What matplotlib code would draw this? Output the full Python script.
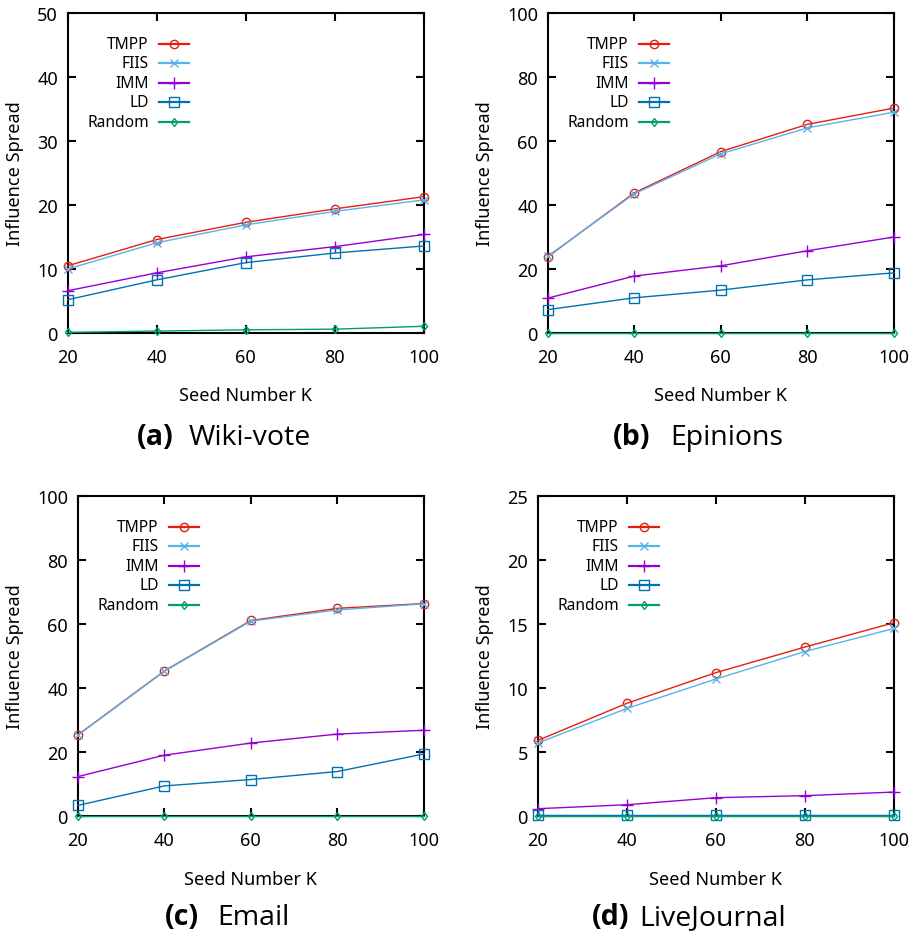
import matplotlib
matplotlib.use("Agg")
import matplotlib.pyplot as plt
import matplotlib.transforms as mtransforms

plt.rcParams['font.family'] = ['Noto Sans', 'DejaVu Sans']

k_values = [20, 40, 60, 80, 100]
methods = ["TMPP", "FIIS", "IMM", "LD", "Random"]

# Wiki-vote
wiki_tmpp = [10.5, 14.6, 17.3, 19.4, 21.3]
wiki_fiis = [10.0, 14.1, 16.9, 19.0, 20.8]
wiki_imm = [6.6, 9.4, 11.9, 13.5, 15.4]
wiki_ld = [5.2, 8.3, 11.0, 12.5, 13.6]
wiki_random = [0.1, 0.3, 0.5, 0.6, 1.05]

# Epinions
epin_tmpp = [23.8, 43.8, 56.7, 65.2, 70.3]
epin_fiis = [24.0, 43.5, 56.0, 64.1, 69.0]
epin_imm = [10.9, 17.8, 21.0, 25.7, 30.0]
epin_ld = [7.3, 11.0, 13.4, 16.6, 18.8]
epin_random = [0.1, 0.1, 0.1, 0.1, 0.1]

# Email
email_tmpp = [25.3, 45.3, 61.1, 64.9, 66.4]
email_fiis = [25.2, 45.2, 60.9, 64.4, 66.3]
email_imm = [12.3, 19.0, 22.8, 25.6, 26.8]
email_ld = [3.3, 9.4, 11.4, 13.9, 19.4]
email_random = [0.1, 0.1, 0.1, 0.1, 0.1]

# LiveJournal
lj_tmpp = [5.9, 8.8, 11.2, 13.2, 15.1]
lj_fiis = [5.7, 8.4, 10.7, 12.85, 14.65]
lj_imm = [0.57, 0.88, 1.43, 1.59, 1.87]
lj_ld = [0.05, 0.05, 0.05, 0.05, 0.05]
lj_random = [0.02, 0.02, 0.02, 0.02, 0.02]

colors = {"TMPP": "#e51e10", "FIIS": "#56b4e9", "IMM": "#9400d3",
          "LD": "#0072b2", "Random": "#009e73"}
markers = {"TMPP": "o", "FIIS": "x", "IMM": "+", "LD": "s", "Random": "d"}
msizes = {"TMPP": 6, "FIIS": 6, "IMM": 8, "LD": 6.5, "Random": 4.5}

W, H = 920, 937
fig = plt.figure(figsize=(W / 100, H / 100), dpi=100)

# (letter, name, series, ymax, ystep, axes px: left, top, right, bottom,
#  caption px: letter x, name x, y, ylabel x, xlabel y)
panels = [
    ("(a)", "Wiki-vote", [wiki_tmpp, wiki_fiis, wiki_imm, wiki_ld, wiki_random],
     50, 10, (67.7, 14, 424, 334), (137, 189, 438), 15, 396),
    ("(b)", "Epinions", [epin_tmpp, epin_fiis, epin_imm, epin_ld, epin_random],
     100, 20, (547.7, 14, 894, 334), (613, 670, 438), 485, 396),
    ("(c)", "Email", [email_tmpp, email_fiis, email_imm, email_ld, email_random],
     100, 20, (77.7, 497, 424, 817), (165, 217, 918), 15, 880),
    ("(d)", "LiveJournal", [lj_tmpp, lj_fiis, lj_imm, lj_ld, lj_random],
     25, 5, (537.7, 497, 894, 817), (592, 639, 918), 485, 880),
]

for letter, name, series, ymax, ystep, rect, cap, ylab_x, xlab_y in panels:
    l, t, r, b = rect
    ax = fig.add_axes([l / W, 1 - b / H, (r - l) / W, (b - t) / H])
    for m, vals in zip(methods, series):
        ax.plot(k_values, vals, color=colors[m], lw=1.0, marker=markers[m],
                ms=msizes[m], mfc='none', mec=colors[m], mew=1.0,
                clip_on=False, zorder=3)
    ax.set_xlim(20, 100)
    ax.set_ylim(0, ymax)
    ax.set_xticks(k_values)
    ax.set_yticks(range(0, ymax + 1, ystep))
    ax.tick_params(direction='in', length=6, width=1.5, top=True, right=True,
                   labelsize=13, colors='black')
    ax.tick_params(axis='x', pad=11)
    ax.tick_params(axis='y', pad=7)
    for s in ax.spines.values():
        s.set_linewidth(1.5)

    ax.set_ylabel("Influence Spread", fontsize=13)
    ax.yaxis.set_label_coords(ylab_x / W, 0.5,
        transform=mtransforms.blended_transform_factory(fig.transFigure, ax.transAxes))
    ax.yaxis.label.set_va('center')
    ax.set_xlabel("Seed Number K", fontsize=13)
    ax.xaxis.set_label_coords(0.5, 1 - xlab_y / H,
        transform=mtransforms.blended_transform_factory(ax.transAxes, fig.transFigure))
    ax.xaxis.label.set_va('center')

    # gnuplot-style key: text right-aligned, sample line to its right
    for i, m in enumerate(methods):
        dy = -(31 + 19.4 * i)
        tr_text = mtransforms.offset_copy(ax.transAxes, fig=fig, x=81, y=dy, units='dots')
        ax.text(0, 1, m, transform=tr_text, ha='right', va='center', fontsize=11.2)
        tr_line = mtransforms.offset_copy(ax.transAxes, fig=fig, x=91, y=dy, units='dots')
        ax.plot([0, 30 / (r - l)], [1, 1], color=colors[m], lw=1.6,
                transform=tr_line, clip_on=False)
        ax.plot([15 / (r - l)], [1], color=colors[m], marker=markers[m],
                ms=msizes[m], mfc='none', mec=colors[m], mew=1.0,
                transform=tr_line, clip_on=False)

    x1, x2, cy = cap
    fig.text(x1 / W, 1 - cy / H, letter, fontsize=20.5, fontweight='bold',
             family=['Open Sans', 'DejaVu Sans'], ha='left', va='center')
    fig.text(x2 / W, 1 - cy / H, name, fontsize=20.5,
             family=['Open Sans', 'DejaVu Sans'], ha='left', va='center')

fig.savefig("out.png", dpi=100)
